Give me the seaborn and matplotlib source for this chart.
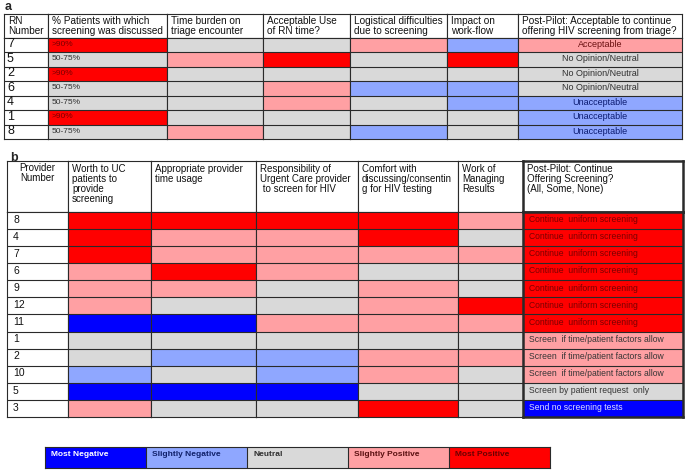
import numpy as np
import pandas as pd
import matplotlib
matplotlib.use("Agg")
import matplotlib.pyplot as plt
from matplotlib.colors import ListedColormap
import seaborn as sns

sns.set_style("white")
plt.rcParams['font.family'] = ['Liberation Sans', 'DejaVu Sans']

W, H = 685, 473

# rating scale: -2 most negative ... 2 most positive
level_names = ["Most Negative", "Slightly Negative", "Neutral", "Slightly Positive", "Most Positive"]
level_values = [-2, -1, 0, 1, 2]
level_colors = ["#0000FF", "#8FA7FF", "#D9D9D9", "#FFA0A3", "#FF0000"]
level_text = ["#FFFFFF", "#10206A", "#303030", "#5A1010", "#6A0000"]

# ---- panel a: RN survey ----
rn_numbers = ["7", "5", "2", "6", "4", "1", "8"]
a_headers = ["RN\nNumber", "% Patients with which\nscreening was discussed",
             "Time burden on\ntriage encounter", "Acceptable Use\nof RN time?",
             "Logistical difficulties\ndue to screening", "Impact on\nwork-flow",
             "Post-Pilot: Acceptable to continue\noffering HIV screening from triage?"]
a_pct_text = [">90%", "50-75%", ">90%", "50-75%", "50-75%", ">90%", "50-75%"]
a_pct = [2, 0, 2, 0, 0, 2, 0]
a_time = [0, 1, 0, 0, 0, 0, 1]
a_rn_use = [0, 2, 0, 1, 1, 0, 0]
a_logistics = [1, 0, 0, -1, 0, 0, -1]
a_workflow = [-1, 2, 0, -1, -1, 0, 0]
a_post = [1, 0, 0, 0, -1, -1, -1]
a_post_text = ["Acceptable", "No Opinion/Neutral", "No Opinion/Neutral", "No Opinion/Neutral",
               "Unacceptable", "Unacceptable", "Unacceptable"]

# ---- panel b: provider survey ----
provider_numbers = ["8", "4", "7", "6", "9", "12", "11", "1", "2", "10", "5", "3"]
b_headers = ["Provider\nNumber", "Worth to UC\npatients to\nprovide\nscreening",
             "Appropriate provider\ntime usage",
             "Responsibility of\nUrgent Care provider\n to screen for HIV",
             "Comfort with\ndiscussing/consentin\ng for HIV testing",
             "Work of\nManaging\nResults",
             "Post-Pilot: Continue\nOffering Screening?\n(All, Some, None)"]
b_worth = [2, 2, 2, 1, 1, 1, -2, 0, 0, -1, -2, 1]
b_time = [2, 1, 1, 2, 1, 0, -2, 0, -1, 0, -2, 0]
b_responsibility = [2, 1, 1, 1, 0, 0, 1, 0, -1, -1, -2, 0]
b_comfort = [2, 2, 1, 0, 1, 1, 1, 0, 1, 1, 0, 2]
b_results = [1, 0, 1, 0, 0, 2, 1, 0, 1, 0, 0, 0]
b_post = [2, 2, 2, 2, 2, 2, 2, 1, 1, 1, 0, -2]
b_post_text = ["Continue  uniform screening"] * 7 + ["Screen  if time/patient factors allow"] * 3 + \
              ["Screen by patient request  only", "Send no screening tests"]

cmap = ListedColormap(level_colors)
white_cmap = ListedColormap(["white"])
EDGE = "#2a2a2a"

fig = plt.figure(figsize=(W / 100, H / 100), dpi=100)


def px_axes(x0, y0, x1, y1):
    return fig.add_axes([x0 / W, 1 - y1 / H, (x1 - x0) / W, (y1 - y0) / H])


def frame(ax, lw=0.8):
    for sp in ax.spines.values():
        sp.set_visible(True)
        sp.set_color(EDGE)
        sp.set_linewidth(lw)


def header_cell(x0, x1, top, bottom, text, fs, ha="left", lw=0.8):
    ax = px_axes(x0, top, x1, bottom)
    ax.set_xticks([])
    ax.set_yticks([])
    ax.set_xlim(0, x1 - x0)
    ax.set_ylim(bottom - top, 0)
    if ha == "center":
        ax.text((x1 - x0) / 2, 2, text, ha="center", va="top", fontsize=fs,
                color="#111111", linespacing=1.0)
    else:
        ax.text(4, 2.5, text, ha="left", va="top", fontsize=fs, color="#111111", linespacing=1.0)
    frame(ax, lw)


def body_column(x0, x1, top, bottom, values, texts=None, colors=None, fs=6.5,
                ha="left", pad=4, numbers=False, lw=0.8):
    ax = px_axes(x0, top, x1, bottom)
    df = pd.DataFrame({"v": values})
    if numbers:
        sns.heatmap(df.astype(float) * 0, ax=ax, cmap=white_cmap, cbar=False,
                    linewidths=0, xticklabels=False, yticklabels=False)
    else:
        sns.heatmap(df, ax=ax, cmap=cmap, vmin=-2.5, vmax=2.5, cbar=False,
                    linewidths=0, xticklabels=False, yticklabels=False)
    ax.hlines(np.arange(1, len(values)), 0, 1, color=EDGE, lw=0.8)
    if texts is not None:
        for i, t in enumerate(texts):
            c = colors[i] if colors is not None else "#111111"
            if ha == "center":
                ax.text(0.5, i + 0.45, t, ha="center", va="center", fontsize=fs, color=c)
            else:
                ax.text(pad / (x1 - x0), i + 0.45, t, ha="left", va="center", fontsize=fs, color=c)
    frame(ax, lw)
    return ax


# ---------- panel a ----------
fig.text(5 / W, 1 - 7 / H, "a", fontsize=9, fontweight="bold", va="center", ha="left")
a_edges = [4, 48, 167, 263, 350, 447, 518, 682]
a_top, a_head, a_bottom = 14, 38, 139
for j, h in enumerate(a_headers):
    header_cell(a_edges[j], a_edges[j + 1], a_top, a_head, h, 7.2)

body_column(a_edges[0], a_edges[1], a_head, a_bottom, [0] * len(rn_numbers),
            texts=rn_numbers, fs=9, numbers=True, pad=3)
body_column(a_edges[1], a_edges[2], a_head, a_bottom, a_pct, texts=a_pct_text,
            colors=["#7A0000" if v == 2 else "#303030" for v in a_pct], fs=6)
a_mid = [a_time, a_rn_use, a_logistics, a_workflow]
for j, vals in enumerate(a_mid):
    body_column(a_edges[j + 2], a_edges[j + 3], a_head, a_bottom, vals)
a_post_colors = {1: "#6A1010", 0: "#303030", -1: "#0A1A70"}
body_column(a_edges[6], a_edges[7], a_head, a_bottom, a_post, texts=a_post_text,
            colors=[a_post_colors[v] for v in a_post], fs=6.5, ha="center")

# ---------- panel b ----------
fig.text(10 / W, 1 - 158 / H, "b", fontsize=9, fontweight="bold", va="center", ha="left")
b_edges = [7, 68, 151, 256, 358, 458, 523, 683]
b_top, b_head, b_bottom = 161, 212, 417
for j, h in enumerate(b_headers[:-1]):
    ha = "center" if j == 0 else "left"
    header_cell(b_edges[j], b_edges[j + 1], b_top, b_head, h, 7, ha=ha)
header_cell(b_edges[6], b_edges[7], b_top, b_head, b_headers[6], 7, lw=1.8)

body_column(b_edges[0], b_edges[1], b_head, b_bottom, [0] * len(provider_numbers),
            texts=provider_numbers, fs=7.5, numbers=True, pad=6)
b_mid = [b_worth, b_time, b_responsibility, b_comfort, b_results]
for j, vals in enumerate(b_mid):
    body_column(b_edges[j + 1], b_edges[j + 2], b_head, b_bottom, vals)
b_post_colors = {2: "#7A0000", 1: "#353535", 0: "#353535", -2: "#DDDDFF"}
body_column(b_edges[6], b_edges[7], b_head, b_bottom, b_post, texts=b_post_text,
            colors=[b_post_colors[v] for v in b_post], fs=6.2, pad=6, lw=1.8)

# ---------- legend ----------
lax = px_axes(45, 447, 550, 468)
legend_df = pd.DataFrame([level_values], columns=level_names)
sns.heatmap(legend_df, ax=lax, cmap=cmap, vmin=-2.5, vmax=2.5, cbar=False,
            linewidths=0, xticklabels=False, yticklabels=False)
lax.vlines(np.arange(1, len(level_names)), 0, 1, color=EDGE, lw=0.8)
for i, name in enumerate(level_names):
    lax.text(i + 0.06, 0.35, name, ha="left", va="center", fontsize=6,
             fontweight="bold", color=level_text[i])
frame(lax)

fig.savefig("out.png", dpi=100)
